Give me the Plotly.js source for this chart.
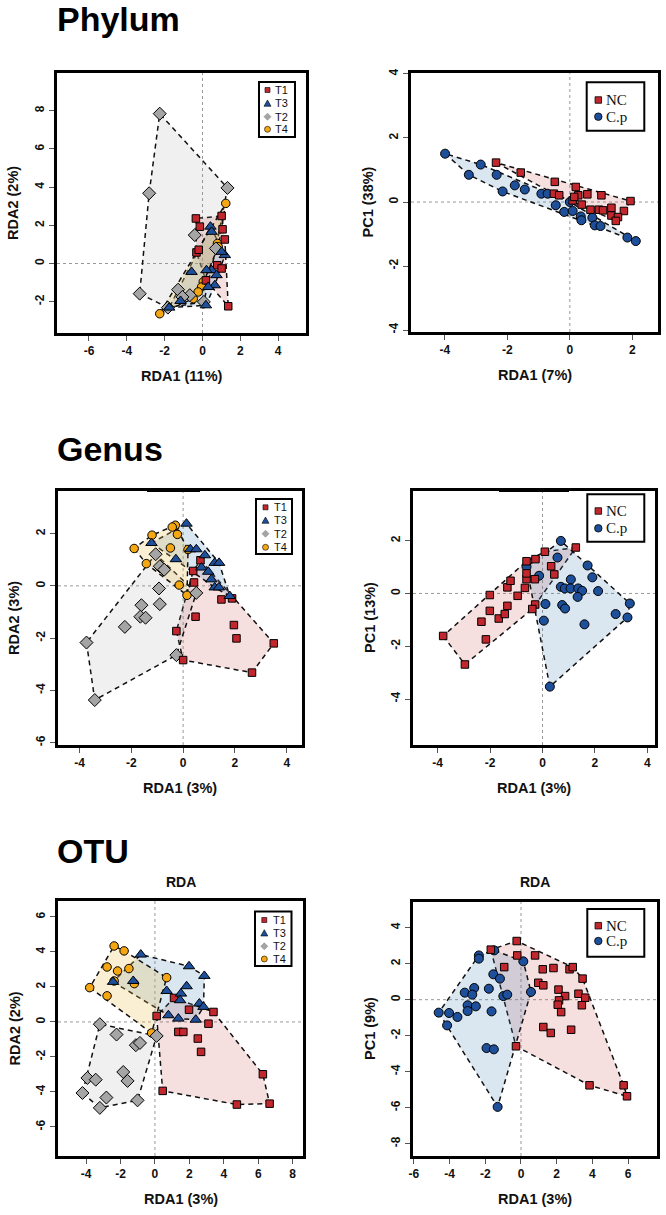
<!DOCTYPE html>
<html><head><meta charset="utf-8">
<script src="https://cdn.plot.ly/plotly-3.0.1.min.js"></script>
<style>html,body{margin:0;padding:0;background:#fff}</style>
</head><body><div id="chart" style="width:666px;height:1215px"></div>
<script>
// ---------------- DATA ----------------
const sectionTitles = ['Phylum', 'Genus', 'OTU'];
const groupsT = ['T1', 'T3', 'T2', 'T4'];
const groupsNC = ['NC', 'C.p'];

// Phylum RDA (T groups)
const phyT1x = [-0.35,-0.14,1.01,1.06,1.18,-0.32,-0.20,0.78,1.01,0.18,1.36];
const phyT1y = [2.36,1.93,2.49,1.79,1.26,0.58,0.72,-0.09,-0.26,-0.88,-2.24];
const phyT3x = [0.42,0.48,1.18,1.01,-0.58,0.48,0.21,0.74,0.65,0.30,-1.16,-1.76,0.18];
const phyT3y = [1.93,1.66,0.44,0.61,-0.44,-0.35,-0.35,-0.61,-1.14,-1.23,-1.96,-2.31,-2.19];
const phyT2x = [-2.26,-2.82,1.32,-3.32,-0.41,0.71,-1.29,-0.67,-1.06,-1.83,0.07];
const phyT2y = [7.85,3.68,3.96,-1.58,1.49,0.79,-1.37,-1.66,-1.75,-2.31,-2.01];
const phyT4x = [1.23,0.79,0.83,0.04,-0.05,-0.23,-0.49,-2.26];
const phyT4y = [3.15,1.05,0.88,-0.96,-1.23,-1.49,-1.84,-2.63];

// Phylum PCA (NC vs C.p)
const phyNCx = [-2.36,-1.57,-0.48,-0.51,-0.34,0.19,0.27,0.56,1.01,1.94,0.09,0.14,0.38,0.66,0.93,1.33,1.73,1.33,1.54,1.47,1.06];
const phyNCy = [1.23,0.92,0.63,0.26,0.21,0.47,0.21,0.24,0.21,0.03,0.05,0.16,-0.08,-0.24,-0.24,-0.18,-0.28,-0.42,-0.47,-0.59,-0.26];
const phyCpx = [-3.99,-3.23,-2.85,-2.34,-2.15,-1.76,-1.44,-0.91,-0.71,-0.45,-0.18,0.00,0.09,0.35,0.37,0.72,0.80,0.98,1.84,2.11];
const phyCpy = [1.51,0.85,1.17,0.85,0.33,0.52,0.39,0.26,0.26,-0.10,-0.31,0.00,-0.28,-0.45,-0.57,-0.49,-0.73,-0.75,-1.11,-1.22];

// Genus RDA
const genT1x = [0.67,0.39,0.42,1.48,1.89,0.48,-0.26,0.00,1.96,2.06,3.50,2.66];
const genT1y = [0.98,0.57,0.13,-0.52,-0.48,-1.18,-1.73,-2.84,-1.50,-2.01,-2.20,-3.32];
const genT3x = [0.13,-1.22,-0.28,0.28,0.51,0.84,0.71,0.97,1.22,1.39,1.09,1.22,1.38,1.80];
const genT3y = [2.38,1.64,1.02,1.40,1.40,1.17,0.70,0.54,0.88,0.88,0.25,-0.06,-0.06,-0.39];
const genT2x = [-1.06,-0.90,-0.73,-0.93,-0.90,-1.61,-1.65,-1.45,-2.25,-3.73,-3.41,-0.26,0.51];
const genT2y = [1.21,0.75,0.62,-0.10,-0.70,-0.74,-1.18,-1.22,-1.57,-2.17,-4.37,-2.65,-0.27];
const genT4x = [-0.30,-0.42,-0.22,-1.20,-0.49,-1.89,-1.42,-0.15,0.15,0.19];
const genT4y = [2.32,2.25,1.97,1.94,1.45,1.43,0.85,0.03,-0.36,1.39];

// Genus PCA
const genNCx = [-3.79,-2.96,-2.16,-2.33,-2.01,-2.01,-1.67,-1.44,-1.34,-1.34,-1.22,-0.95,-0.67,-0.61,-0.61,-0.61,-0.27,-0.29,-0.28,-0.39,0.09,0.33,0.45,1.27];
const genNCy = [-1.61,-2.69,-1.74,-1.07,-0.06,-0.66,-0.95,-0.78,-0.47,0.23,0.48,-0.09,0.21,0.54,0.76,1.22,1.30,0.54,-0.42,-0.59,1.58,1.03,0.72,1.74];
const genCpx = [0.70,0.57,-0.13,-0.61,1.72,1.90,2.12,1.08,0.70,0.85,1.07,1.36,1.51,1.34,0.11,0.75,0.86,0.05,1.60,2.79,3.24,3.33,0.28];
const genCpy = [1.99,1.36,0.67,1.01,1.06,0.61,0.09,0.53,0.25,0.19,0.19,0.19,0.10,-0.13,-0.40,-0.44,-0.57,-1.03,-1.17,-0.78,-0.91,-0.38,-3.53];

// OTU RDA
const otuT1x = [0.10,1.11,1.98,3.40,1.36,1.65,3.11,2.49,2.68,0.45,4.76,6.66,6.27];
const otuT1y = [0.34,1.37,0.70,0.57,-0.57,-0.57,-0.10,-0.95,-1.71,-3.94,-4.72,-4.67,-2.99];
const otuT3x = [-0.82,-2.43,-1.26,1.98,2.87,0.68,1.84,1.51,1.46,0.78,1.36,2.37,2.58,2.82];
const otuT3y = [3.85,2.29,2.34,3.18,2.63,1.77,2.04,1.62,1.24,0.38,0.19,0.13,1.05,0.86];
const otuT2x = [-3.20,-2.23,-1.11,-0.87,0.10,-1.84,-1.59,-3.92,-3.44,-4.21,-2.82,-3.20,-1.01];
const otuT2y = [-0.13,-0.72,-1.33,-1.20,-0.80,-2.86,-3.37,-3.20,-3.30,-4.06,-4.32,-4.91,-4.48];
const otuT4x = [-2.37,-1.79,-2.78,-2.17,-1.51,0.68,-3.79,-2.78,-2.37,-1.20,-0.19];
const otuT4y = [4.34,4.06,3.14,2.91,3.05,2.53,1.96,1.49,2.34,2.19,-0.63];

// OTU PCA
const otuNCx = [-0.24,-1.69,-0.21,0.79,-0.94,1.22,1.82,2.72,2.90,3.45,0.97,1.25,2.10,2.47,3.22,3.60,2.13,2.06,2.25,3.41,1.25,1.67,2.81,-0.28,3.84,5.75,5.94];
const otuNCy = [3.26,2.78,2.46,2.46,1.81,1.69,1.76,1.69,1.81,1.17,0.94,0.80,0.56,0.20,0.33,0.11,-0.04,-0.28,-0.69,-0.31,-1.52,-1.85,-1.67,-2.59,-4.76,-4.76,-5.37];
const otuCpx = [-2.36,-2.36,-1.50,0.13,-1.55,-1.18,-1.80,-0.99,-0.77,0.56,-3.15,-2.62,-2.73,-2.99,-2.99,-2.53,-3.56,-4.03,-4.61,-4.14,-1.65,-1.93,-1.52,-1.31];
const otuCpy = [2.46,2.28,2.74,2.13,1.41,1.17,0.61,0.20,0.28,0.43,0.39,0.65,0.28,-0.31,-0.63,-0.37,-0.96,-0.74,-0.72,-1.43,-0.65,-2.69,-2.76,-5.96];

// axis titles and ticks
const xTitles = ['RDA1 (11%)', 'RDA1 (7%)', 'RDA1 (3%)', 'RDA1 (3%)', 'RDA1 (3%)', 'RDA1 (3%)'];
const yTitles = ['RDA2 (2%)', 'PC1 (38%)', 'RDA2 (3%)', 'PC1 (13%)', 'RDA2 (2%)', 'PC1 (9%)'];
const xTicks = [[-6,-4,-2,0,2,4],[-4,-2,0,2],[-4,-2,0,2,4],[-4,-2,0,2,4],[-4,-2,0,2,4,6,8],[-6,-4,-2,0,2,4,6]];
const yTicks = [[-2,0,2,4,6,8],[-4,-2,0,2,4],[-6,-4,-2,0,2],[-4,-2,0,2],[-6,-4,-2,0,2,4,6],[-8,-6,-4,-2,0,2,4]];
const panelTitles = ['', '', '', '', 'RDA', 'RDA'];

// ---------------- LAYOUT / STYLE ----------------
const W = 666, H = 1215;
const PX = v => v / W, PY = v => 1 - v / H;
const FONT = 'Liberation Sans, Arial, sans-serif';
const SERIF = 'Liberation Serif, Times New Roman, serif';

const STY = {
  T1: {symbol:'square', color:'#c1272d', size:7.5, fill:'rgba(205,80,80,0.18)'},
  T3: {symbol:'triangle-up', color:'#1d4f9a', size:10, fill:'rgba(70,130,180,0.2)'},
  T2: {symbol:'diamond', color:'#a5a5a5', size:10, fill:'rgba(150,150,150,0.14)'},
  T4: {symbol:'circle', color:'#f4a712', size:8.5, fill:'rgba(240,190,80,0.25)'},
  NC: {symbol:'square', color:'#c1272d', size:7.5, fill:'rgba(205,80,80,0.18)'},
  'C.p': {symbol:'circle', color:'#1d4f9a', size:9, fill:'rgba(70,130,180,0.2)'}
};

// panel boxes in pixels [left, right, top, bottom] and data ranges
const panels = [
  {box:[57,306,73,333],  xr:[-7.69,5.47], yr:[-3.64,9.98]},
  {box:[411,658,73,332], xr:[-5.08,2.82], yr:[-4.06,4.03]},
  {box:[58,302,491,745], xr:[-4.83,4.59], yr:[-6.09,3.63]},
  {box:[413,655,491,745],xr:[-4.94,4.29], yr:[-5.74,3.88]},
  {box:[58,303,901,1156],xr:[-5.63,8.60], yr:[-7.66,6.91]},
  {box:[413,657,902,1156],xr:[-6.05,7.62], yr:[-8.69,5.43]}
];

const panelData = [
  {T1:[phyT1x,phyT1y], T3:[phyT3x,phyT3y], T2:[phyT2x,phyT2y], T4:[phyT4x,phyT4y]},
  {NC:[phyNCx,phyNCy], 'C.p':[phyCpx,phyCpy]},
  {T1:[genT1x,genT1y], T3:[genT3x,genT3y], T2:[genT2x,genT2y], T4:[genT4x,genT4y]},
  {NC:[genNCx,genNCy], 'C.p':[genCpx,genCpy]},
  {T1:[otuT1x,otuT1y], T3:[otuT3x,otuT3y], T2:[otuT2x,otuT2y], T4:[otuT4x,otuT4y]},
  {NC:[otuNCx,otuNCy], 'C.p':[otuCpx,otuCpy]}
];
const pointOrderT = ['T4','T2','T1','T3'];
const pointOrderNC = ['C.p','NC'];

function convexHull(xs, ys) {
  const pts = xs.map((x,i)=>[x,ys[i]]).sort((a,b)=>a[0]-b[0]||a[1]-b[1]);
  const cross=(o,a,b)=>(a[0]-o[0])*(b[1]-o[1])-(a[1]-o[1])*(b[0]-o[0]);
  const lower=[], upper=[];
  for (const p of pts){ while(lower.length>=2 && cross(lower[lower.length-2],lower[lower.length-1],p)<=0) lower.pop(); lower.push(p); }
  for (let i=pts.length-1;i>=0;i--){ const p=pts[i]; while(upper.length>=2 && cross(upper[upper.length-2],upper[upper.length-1],p)<=0) upper.pop(); upper.push(p); }
  upper.pop(); lower.pop();
  const h = lower.concat(upper); h.push(h[0]);
  return h;
}

const traces = [], shapes = [], annotations = [];
const layout = {
  width: W, height: H, margin:{l:0,r:0,t:0,b:0},
  paper_bgcolor:'#ffffff', plot_bgcolor:'#ffffff', showlegend:false,
  font:{family:FONT, color:'#000'}
};

panels.forEach((p, i) => {
  const n = i + 1;
  const xa = n === 1 ? 'x' : 'x' + n, ya = n === 1 ? 'y' : 'y' + n;
  const xk = n === 1 ? 'xaxis' : 'xaxis' + n, yk = n === 1 ? 'yaxis' : 'yaxis' + n;
  const [l, r, t, b] = p.box;
  const common = {
    showgrid:false, zeroline:false, showline:true, mirror:true, linewidth:2.8, linecolor:'#000',
    ticks:'outside', ticklen:5, tickwidth:1, tickcolor:'#555',
    tickfont:{family:FONT, size:12, weight:'bold', color:'#111'}, fixedrange:true
  };
  layout[xk] = Object.assign({}, common, {domain:[PX(l), PX(r)], range:p.xr, anchor:ya, tickvals:xTicks[i], ticktext:xTicks[i].map(String)});
  layout[yk] = Object.assign({}, common, {domain:[PY(b), PY(t)], range:p.yr, anchor:xa, tickvals:yTicks[i], ticktext:yTicks[i].map(String), tickangle:-90});

  // dotted zero lines
  shapes.push({type:'line', xref:xa, yref:ya+' domain', x0:0, x1:0, y0:0, y1:1, line:{color:'#999', width:1, dash:'dot'}, layer:'below'});
  shapes.push({type:'line', xref:xa+' domain', yref:ya, x0:0, x1:1, y0:0, y1:0, line:{color:'#999', width:1, dash:'dot'}, layer:'below'});

  const data = panelData[i];
  const keys = Object.keys(data);
  // hulls
  keys.forEach(k => {
    const h = convexHull(data[k][0], data[k][1]);
    traces.push({type:'scatter', mode:'lines', xaxis:xa, yaxis:ya, x:h.map(q=>q[0]), y:h.map(q=>q[1]),
      fill:'toself', fillcolor:STY[k].fill, line:{color:'#111', width:1.5, dash:'5px,4px'}, hoverinfo:'skip', name:k+' hull'});
  });
  const order = keys.length === 4 ? pointOrderT : pointOrderNC;
  order.forEach(k => {
    const s = STY[k];
    traces.push({type:'scatter', mode:'markers', xaxis:xa, yaxis:ya, x:data[k][0], y:data[k][1], name:k,
      marker:{symbol:s.symbol, size:s.size, color:s.color, line:{color:'#000', width:1}}});
  });

  // axis titles
  const yTitleX = (i % 2 === 0) ? l - 44 : l - 43;
  annotations.push({xref:'paper', yref:'paper', x:PX(yTitleX), y:PY((t+b)/2), text:yTitles[i], textangle:-90,
    showarrow:false, xanchor:'center', yanchor:'middle', font:{family:FONT, size:14.5, weight:'bold', color:'#111'}});
  annotations.push({xref:'paper', yref:'paper', x:PX((l+r)/2), y:PY(b+43), text:xTitles[i],
    showarrow:false, xanchor:'center', yanchor:'middle', font:{family:FONT, size:14.5, weight:'bold', color:'#111'}});
  if (panelTitles[i]) {
    annotations.push({xref:'paper', yref:'paper', x:PX((l+r)/2), y:PY(882), text:panelTitles[i],
      showarrow:false, xanchor:'center', yanchor:'middle', font:{family:FONT, size:14, weight:'bold', color:'#111'}});
  }
});

// section titles
const secY = [19, 449, 851];
sectionTitles.forEach((s, i) => {
  annotations.push({xref:'paper', yref:'paper', x:PX(55), y:PY(secY[i]), text:s, showarrow:false,
    xanchor:'left', yanchor:'middle', font:{family:FONT, size:34, weight:'bold', color:'#000'}});
});

// thick top-border fragments on Genus panels
shapes.push({type:'line', xref:'paper', yref:'paper', x0:PX(147), x1:PX(200), y0:PY(490), y1:PY(490), line:{color:'#000', width:4}});
shapes.push({type:'line', xref:'paper', yref:'paper', x0:PX(499), x1:PX(569), y0:PY(490), y1:PY(490), line:{color:'#000', width:4}});

// legends (drawn in paper space)
function glyph(sym, cx, cy, sz, color, lw) {
  const hx = sz / 2;
  if (sym === 'square') {
    shapes.push({type:'rect', xref:'paper', yref:'paper', x0:PX(cx-hx), x1:PX(cx+hx), y0:PY(cy+hx), y1:PY(cy-hx), fillcolor:color, line:{color:'#000', width:lw}});
  } else if (sym === 'circle') {
    shapes.push({type:'circle', xref:'paper', yref:'paper', x0:PX(cx-hx), x1:PX(cx+hx), y0:PY(cy+hx), y1:PY(cy-hx), fillcolor:color, line:{color:'#000', width:lw}});
  } else if (sym === 'triangle-up') {
    shapes.push({type:'path', xref:'paper', yref:'paper', path:`M ${PX(cx-hx)} ${PY(cy+hx*0.85)} L ${PX(cx+hx)} ${PY(cy+hx*0.85)} L ${PX(cx)} ${PY(cy-hx*0.95)} Z`, fillcolor:color, line:{color:'#000', width:lw}});
  } else if (sym === 'diamond') {
    shapes.push({type:'path', xref:'paper', yref:'paper', path:`M ${PX(cx-hx)} ${PY(cy)} L ${PX(cx)} ${PY(cy-hx)} L ${PX(cx+hx)} ${PY(cy)} L ${PX(cx)} ${PY(cy+hx)} Z`, fillcolor:color, line:{color:'#888', width:lw}});
  }
}
const legendsT = [
  {box:[259,295,82,137], mx:267.5, tx:272.5, rows:[90,103.3,116.7,129.3]},
  {box:[256,292,499,554], mx:265.5, tx:271.5, rows:[507.3,520.3,533.7,547.3]},
  {box:[255,291.5,911.5,966], mx:264.3, tx:270.5, rows:[920,933,946.3,959]}
];
const legendsNC = [
  {box:[586.7,644.3,82.3,130.7], mx:598.3, tx:604, rows:[100,116.7]},
  {box:[587.3,644.3,494.3,541.7], mx:598.3, tx:604, rows:[511,528.3]},
  {box:[587.3,644.3,909,956.7], mx:598.3, tx:604, rows:[925.7,941]}
];
const gSize = {T1:5, T3:7, T2:7, T4:6, NC:6.5, 'C.p':7.5};
legendsT.forEach(L => {
  shapes.push({type:'rect', xref:'paper', yref:'paper', x0:PX(L.box[0]), x1:PX(L.box[1]), y0:PY(L.box[3]), y1:PY(L.box[2]), fillcolor:'#fff', line:{color:'#000', width:2}});
  groupsT.forEach((g, j) => {
    glyph(STY[g].symbol, L.mx, L.rows[j], gSize[g], STY[g].color, 0.6);
    annotations.push({xref:'paper', yref:'paper', x:PX(L.tx), y:PY(L.rows[j]), text:g, showarrow:false, xanchor:'left', yanchor:'middle', font:{family:FONT, size:11, color:'#111'}});
  });
});
legendsNC.forEach(L => {
  shapes.push({type:'rect', xref:'paper', yref:'paper', x0:PX(L.box[0]), x1:PX(L.box[1]), y0:PY(L.box[3]), y1:PY(L.box[2]), fillcolor:'#fff', line:{color:'#000', width:2}});
  groupsNC.forEach((g, j) => {
    glyph(STY[g].symbol, L.mx, L.rows[j], gSize[g], STY[g].color, 0.8);
    annotations.push({xref:'paper', yref:'paper', x:PX(L.tx), y:PY(L.rows[j]), text:g, showarrow:false, xanchor:'left', yanchor:'middle', font:{family:SERIF, size:15, color:'#111'}});
  });
});

layout.shapes = shapes;
layout.annotations = annotations;
Plotly.newPlot('chart', traces, layout, {staticPlot:true, displayModeBar:false});
</script></body></html>
